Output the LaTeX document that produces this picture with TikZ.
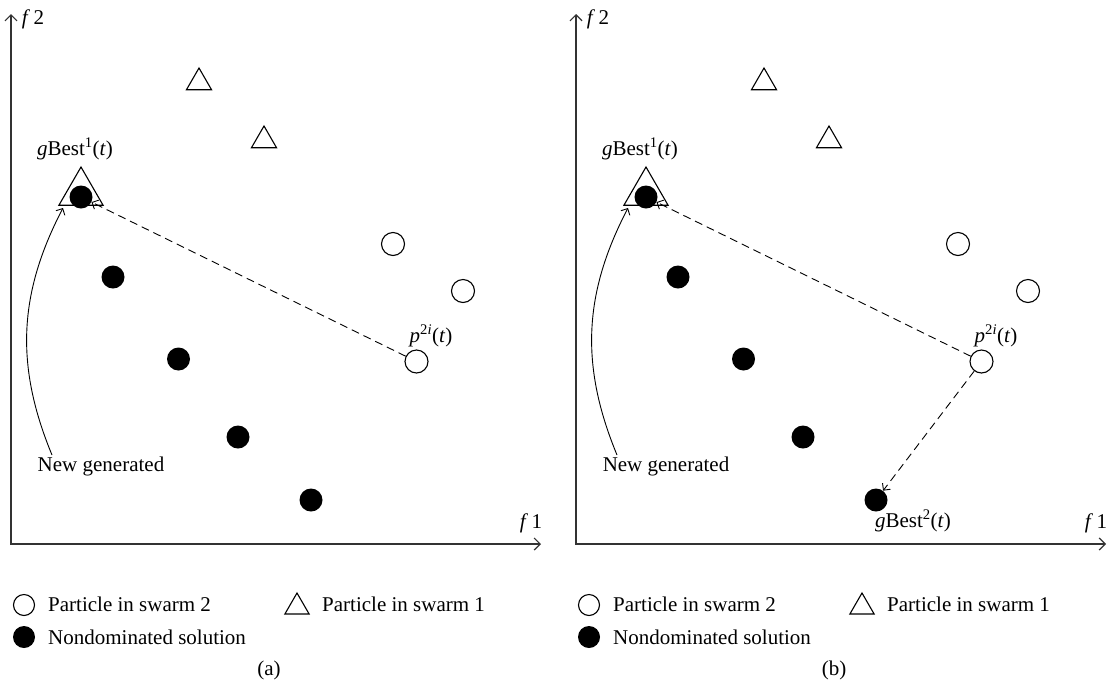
\documentclass[tikz,border=0pt]{standalone}
\usepackage{fontspec}
\setmainfont{Liberation Serif}
\usetikzlibrary{shapes.geometric,arrows.meta}

\tikzset{
  dot/.style={circle,fill=black,inner sep=0pt,minimum size=23pt},
  ring/.style={circle,draw=black,line width=1.1pt,fill=white,inner sep=0pt,minimum size=23pt},
  tri/.style={regular polygon,regular polygon sides=3,draw=black,line width=1.1pt,inner sep=0pt,minimum size=29pt},
  lbl/.style={font=\fontsize{21}{24}\selectfont,inner sep=0pt},
  axis/.style={line width=1.2pt,draw=black!80,{Straight Barb[length=6pt,width=12pt]}-{Straight Barb[length=6pt,width=12pt]}},
  link/.style={line width=0.9pt,dash pattern=on 8pt off 5pt,-{Straight Barb[length=5pt,width=10pt]}},
  curvearrow/.style={line width=0.9pt,-{Straight Barb[length=5pt,width=10pt]}},
}

\newcommand\drawpanel{%
  \coordinate (o) at (11,544);
  \coordinate (ytip) at (11,14);
  \coordinate (xtip) at (541,544);
  \draw[axis] (ytip) -- (o) -- (xtip);
  \node[lbl] (f2) at (33,19) {\textit{f}\,2};
  \node[lbl] (f1) at (531,523) {\textit{f}\,1};
  % swarm 1 particles
  \node[tri] (t1) at (199,82.5) {};
  \node[tri] (t2) at (264,140.5) {};
  \node[tri,minimum size=51pt] (gb) at (81,192.5) {};
  \node[dot] (gbd) at (81,197) {};
  \node[lbl] (gblab) at (75,149) {\textit{g}Best\textsuperscript{1}(\textit{t})};
  % swarm 2 particles
  \node[ring] (c1) at (393,244) {};
  \node[ring] (c2) at (463,291) {};
  \node[ring] (p) at (416.5,361.5) {};
  \node[lbl] (plab) at (431,336) {\textit{p}\textsuperscript{2\textit{i}}(\textit{t})};
  % nondominated solutions
  \node[dot] (d1) at (113,277) {};
  \node[dot] (d2) at (178.5,359) {};
  \node[dot] (d3) at (238,437) {};
  \node[dot] (d4) at (311,500) {};
  % new generated
  \node[lbl] (ng) at (101,466) {New generated};
  \coordinate (ngs) at (52,455);
  \coordinate (gbc) at (63,208);
  \draw[curvearrow] (ngs) to[bend left=25] (gbc);
  \draw[link] (p) -- (gbd);
  % legend
  \node[ring,minimum size=21pt] (lc) at (24,605) {};
  \node[lbl,anchor=base west] (lct) at (48,611) {Particle in swarm 2};
  \node[tri,minimum size=28pt] (lt) at (297,607) {};
  \node[lbl,anchor=base west] (ltt) at (322,611) {Particle in swarm 1};
  \node[dot,minimum size=22pt] (ld) at (24,637) {};
  \node[lbl,anchor=base west] (ldt) at (48,644) {Nondominated solution};
}

\begin{document}
\begin{tikzpicture}[x=1pt,y=-1pt]
  \useasboundingbox (0,0) rectangle (1108,689);
  \begin{scope}[name prefix=a-]
    \drawpanel
    \node[lbl] (cap) at (269,670) {(a)};
  \end{scope}
  \begin{scope}[xshift=565pt,name prefix=b-]
    \drawpanel
    \node[lbl] (cap) at (269,670) {(b)};
    \node[lbl] (gb2lab) at (348,521) {\textit{g}Best\textsuperscript{2}(\textit{t})};
    \draw[link] (p) -- (d4);
  \end{scope}
\end{tikzpicture}
\end{document}
